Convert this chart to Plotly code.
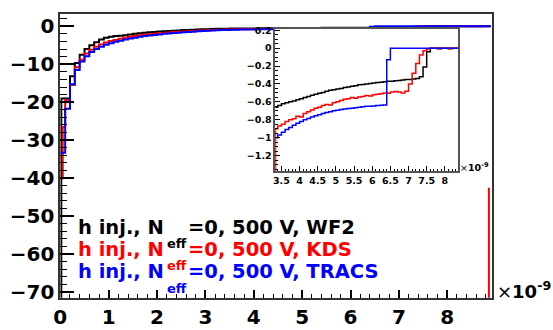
import plotly.graph_objects as go

W, H = 553, 330

# ---- data (time in ns, signal in arbitrary units) ----
BIN = 0.1
N_BINS = 89

# WF2: first bin is split at 0.02 ns
wf2_head_edges = [0.0, 0.02]
wf2 = [-75, -19,
       -19, -13.2, -9.7, -7.5, -6.0, -5.0, -4.2, -3.5, -3.05,
       -2.8, -2.6, -2.5, -2.4, -2.2, -2.0, -1.85, -1.72, -1.6, -1.5,
       -1.4, -1.32, -1.24, -1.16, -1.09, -1.02, -0.96, -0.91, -0.86, -0.81,
       -0.77, -0.73, -0.69, -0.66, -0.64, -0.62, -0.61, -0.60, -0.59, -0.575,
       -0.565, -0.55, -0.54, -0.525, -0.515, -0.505, -0.495, -0.48, -0.47, -0.465,
       -0.455, -0.45, -0.44, -0.435, -0.425, -0.42, -0.41, -0.405, -0.40, -0.395,
       -0.39, -0.385, -0.38, -0.375, -0.37, -0.37, -0.365, -0.36, -0.355, -0.35,
       -0.35, -0.345, -0.34, -0.32, -0.21, -0.04, 0, 0, 0, 0,
       0, 0, 0, 0, 0, 0, 0, 0, 0]

# KDS: first bin is split at 0.05 ns
kds_head_edges = [0.0, 0.05]
kds = [-40, -26.5,
       -19.5, -15.5, -10.8, -8.8, -7.2, -6.2, -5.4, -4.8, -4.3,
       -3.9, -3.6, -3.3, -3.05, -2.8, -2.6, -2.4, -2.25, -2.1, -1.95,
       -1.85, -1.75, -1.65, -1.55, -1.47, -1.39, -1.31, -1.24, -1.17, -1.11,
       -1.05, -1.0, -0.95, -0.90, -0.87, -0.85, -0.82, -0.80, -0.79, -0.76,
       -0.77, -0.73, -0.71, -0.69, -0.67, -0.66, -0.64, -0.63, -0.635, -0.61,
       -0.60, -0.585, -0.57, -0.565, -0.55, -0.56, -0.545, -0.54, -0.53, -0.535,
       -0.52, -0.515, -0.51, -0.50, -0.505, -0.49, -0.485, -0.49, -0.50, -0.48,
       -0.40, -0.28, -0.17, -0.075, -0.03, -0.01, 0, 0, -0.01, 0,
       0, -0.01, 0, 0, 0, 0, 0, 0]
# closing edge of the KDS histogram at the end of the window
kds_tail_t = 8.86
kds_tail_v = [-42.5, -75]

tracs = [-33.3, -21.7, -15.3, -11.5, -9.3, -7.9, -6.8, -6.0, -5.4, -4.9,
         -4.5, -4.1, -3.8, -3.5, -3.25, -3.0, -2.8, -2.6, -2.45, -2.3,
         -2.15, -2.0, -1.9, -1.8, -1.7, -1.6, -1.5, -1.42, -1.34, -1.27,
         -1.2, -1.13, -1.06, -1.0, -0.97, -0.94, -0.91, -0.885, -0.86, -0.84,
         -0.82, -0.80, -0.785, -0.77, -0.755, -0.745, -0.73, -0.72, -0.71, -0.70,
         -0.695, -0.685, -0.68, -0.675, -0.67, -0.665, -0.66, -0.655, -0.65, -0.648,
         -0.645, -0.64, -0.638, -0.635, -0.13, 0, 0, 0, 0, 0,
         0, 0, 0, 0, 0, 0, 0, 0, 0, 0,
         0, 0, 0, 0, 0, 0, 0, 0, 0]

grid = [round(k * BIN, 3) for k in range(N_BINS + 1)]
wf2_edges = wf2_head_edges + grid[1:]
kds_edges = kds_head_edges + grid[1:]
tracs_edges = grid

series = [
    ("WF2", wf2_edges, wf2, "#000000"),
    ("KDS", kds_edges, kds, "#ff0000"),
    ("TRACS", tracs_edges, tracs, "#0000ff"),
]

MAIN_X = [0, 8.92]
MAIN_Y = [-71.5, 3.3]
INSET_X = [3.33, 8.36]
INSET_Y = [-1.37, 0.215]


def px(x):
    return x / W


def py(y):
    return 1 - y / H


def value_at(edges, vals, t):
    for lo, hi, v in zip(edges[:-1], edges[1:], vals):
        if lo <= t < hi:
            return v
    return vals[-1]


fig = go.Figure()

for name, edges, vals, col in series:
    xs = list(edges)
    ys = list(vals) + [vals[-1]]
    for xa, ya, lw in (("x", "y", 2), ("x2", "y2", 1.5)):
        fig.add_trace(go.Scatter(
            x=xs, y=ys, mode="lines", line=dict(color=col, width=lw, shape="hv"),
            xaxis=xa, yaxis=ya, showlegend=False, hoverinfo="skip"))

# KDS edge down to the pad floor where the zoomed window opens
fig.add_trace(go.Scatter(
    x=[INSET_X[0], INSET_X[0]],
    y=[value_at(kds_edges, kds, INSET_X[0]), INSET_Y[0] - 0.2], mode="lines",
    line=dict(color="#ff0000", width=2), xaxis="x2", yaxis="y2",
    showlegend=False, hoverinfo="skip"))

fig.add_trace(go.Scatter(
    x=[kds_tail_t, kds_tail_t], y=kds_tail_v, mode="lines",
    line=dict(color="#ff0000", width=2), xaxis="x", yaxis="y",
    showlegend=False, hoverinfo="skip"))

FONT = "DejaVu Sans"
frame = "#333333"

fig.update_layout(
    width=W, height=H, margin=dict(l=0, r=0, t=0, b=0),
    paper_bgcolor="white", plot_bgcolor="white", showlegend=False,
    xaxis=dict(domain=[px(54), px(491)], range=MAIN_X, showgrid=False, zeroline=False,
               showline=True, linecolor=frame, linewidth=2, mirror=True,
               ticks="inside", ticklen=8, tickwidth=1.5, tickcolor="black",
               dtick=1, tick0=0,
               minor=dict(dtick=0.2, ticklen=4, tickwidth=1.2, tickcolor="black", ticks="inside"),
               tickfont=dict(family=FONT, size=20, color="black", weight="bold"),
               anchor="y"),
    yaxis=dict(domain=[py(303), py(10)], range=MAIN_Y, showgrid=False, zeroline=False,
               showline=True, linecolor=frame, linewidth=2, mirror=True,
               ticks="inside", ticklen=14, tickwidth=1.5, tickcolor="black",
               dtick=10, tick0=0,
               minor=dict(dtick=2, ticklen=7, tickwidth=1.2, tickcolor="black", ticks="inside"),
               tickfont=dict(family=FONT, size=20, color="black", weight="bold"),
               anchor="x"),
    xaxis2=dict(domain=[px(271.7), px(456.7)], range=INSET_X, showgrid=False, zeroline=False,
                showline=True, linecolor="#555555", linewidth=1.5, mirror=True,
                ticks="inside", ticklen=5, tickwidth=1, tickcolor="black",
                dtick=0.5, tick0=0,
                minor=dict(dtick=0.1, ticklen=2.5, tickwidth=1, tickcolor="black", ticks="inside"),
                tickfont=dict(family=FONT, size=9.5, color="black", weight="bold"),
                anchor="y2"),
    yaxis2=dict(domain=[py(172), py(25.7)], range=INSET_Y, showgrid=False, zeroline=False,
                showline=True, linecolor="#555555", linewidth=1.5, mirror=True,
                ticks="inside", ticklen=5, tickwidth=1, tickcolor="black",
                dtick=0.2, tick0=0,
                minor=dict(dtick=0.05, ticklen=2.5, tickwidth=1, tickcolor="black", ticks="inside"),
                tickfont=dict(family=FONT, size=9.5, color="black", weight="bold"),
                anchor="x2"),
)

# white backdrop for the inset pad
fig.add_shape(type="rect", xref="x2", yref="y2",
              x0=INSET_X[0], x1=INSET_X[1], y0=INSET_Y[0], y1=INSET_Y[1],
              fillcolor="white", line=dict(width=0), layer="below")

# legend-style labels
LEG_SIZE = 19.5
SUB_SIZE = 13
labels = [
    ("WF2", "#000000", 238, 252),
    ("KDS", "#ff0000", 260, 274),
    ("TRACS", "#0000ff", 283, 298),
]


def text_at(x, baseline, txt, col, size, xanchor="left"):
    fig.add_annotation(xref="paper", yref="paper", x=px(x), y=py(baseline - 0.36 * size),
                       text=txt, showarrow=False, xanchor=xanchor, yanchor="middle",
                       font=dict(family=FONT, size=size, color=col, weight="bold"),
                       borderpad=0)


for code, col, base, sub_base in labels:
    text_at(160, base, "h inj., N", col, LEG_SIZE, xanchor="right")
    text_at(161, sub_base, "eff", col, SUB_SIZE)
    text_at(182, base, "=0, 500 V, " + code, col, LEG_SIZE)

# exponent labels for the time axes
fig.add_annotation(xref="paper", yref="paper", x=px(494), y=py(295), text="×<b>10<sup>-9</sup></b>",
                   showarrow=False, xanchor="left", yanchor="middle",
                   font=dict(family=FONT, size=18, color="black"))
fig.add_annotation(xref="paper", yref="paper", x=px(457), y=py(168), text="×<b>10<sup>-9</sup></b>",
                   showarrow=False, xanchor="left", yanchor="middle",
                   font=dict(family=FONT, size=9.5, color="black"))

fig.write_html("out.html")
